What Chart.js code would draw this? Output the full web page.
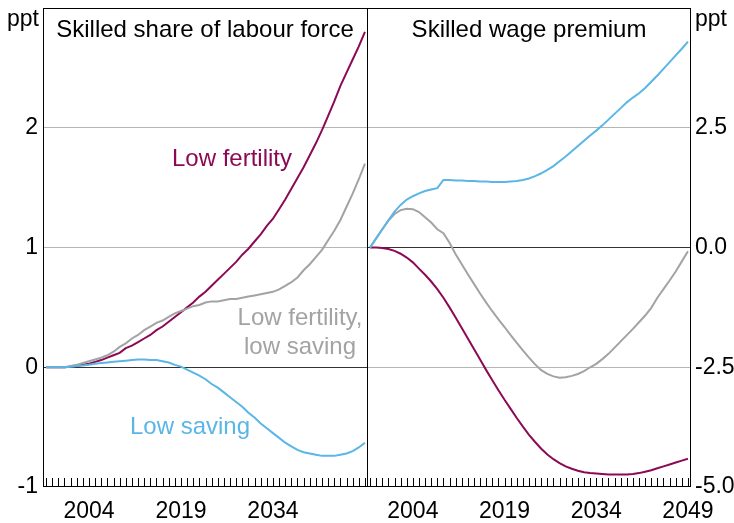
<!DOCTYPE html>
<html>
<head>
<meta charset="utf-8">
<script src="https://cdn.jsdelivr.net/npm/chart.js@4"></script>
<style>
  body { margin: 0; background: #fff; }
  #wrap { position: relative; width: 734px; height: 523px; }
  #left { position: absolute; left: 0; top: 0; }
  #right { position: absolute; left: 366px; top: 0; }
</style>
</head>
<body>
<div id="wrap">
  <canvas id="left" width="369" height="523"></canvas>
  <canvas id="right" width="368" height="523"></canvas>
</div>
<script>
// years 1997..2049, annual
const years = [];
for (let y = 1997; y <= 2049; y++) years.push(y);

const labelYears = [2004, 2019, 2034, 2049];

// Skilled share of labour force (ppt)
const shareLowFertility = [0, 0, 0, 0, 0.005, 0.01, 0.02, 0.03, 0.045, 0.06, 0.08, 0.1, 0.12, 0.16, 0.18, 0.21, 0.24, 0.27, 0.31, 0.34, 0.38, 0.42, 0.46, 0.5, 0.54, 0.59, 0.63, 0.68, 0.73, 0.78, 0.83, 0.88, 0.94, 0.99, 1.05, 1.11, 1.18, 1.24, 1.32, 1.4, 1.49, 1.58, 1.67, 1.77, 1.87, 1.98, 2.1, 2.22, 2.35, 2.46, 2.57, 2.68, 2.8];
const shareBoth = [0, 0, 0, 0, 0.01, 0.02, 0.035, 0.05, 0.065, 0.08, 0.1, 0.13, 0.17, 0.2, 0.24, 0.27, 0.31, 0.34, 0.37, 0.39, 0.42, 0.45, 0.47, 0.49, 0.51, 0.52, 0.54, 0.55, 0.55, 0.56, 0.57, 0.57, 0.58, 0.59, 0.6, 0.61, 0.62, 0.63, 0.65, 0.68, 0.71, 0.75, 0.81, 0.86, 0.92, 0.98, 1.06, 1.14, 1.23, 1.34, 1.45, 1.57, 1.7];
const shareLowSaving = [0, 0, 0, 0, 0.005, 0.01, 0.015, 0.02, 0.03, 0.035, 0.04, 0.045, 0.05, 0.055, 0.06, 0.065, 0.065, 0.06, 0.06, 0.05, 0.04, 0.02, 0.005, -0.02, -0.045, -0.07, -0.1, -0.14, -0.17, -0.21, -0.25, -0.29, -0.33, -0.38, -0.42, -0.47, -0.51, -0.55, -0.59, -0.63, -0.66, -0.69, -0.71, -0.72, -0.73, -0.74, -0.74, -0.74, -0.73, -0.72, -0.7, -0.67, -0.63];

// Skilled wage premium (ppt)
const wageLowFertility = [0, 0, -0.01, -0.03, -0.07, -0.13, -0.21, -0.31, -0.44, -0.57, -0.71, -0.87, -1.05, -1.25, -1.46, -1.68, -1.9, -2.12, -2.34, -2.56, -2.77, -2.98, -3.18, -3.37, -3.56, -3.74, -3.91, -4.06, -4.2, -4.32, -4.42, -4.5, -4.57, -4.62, -4.66, -4.69, -4.71, -4.72, -4.73, -4.74, -4.74, -4.74, -4.74, -4.73, -4.71, -4.68, -4.65, -4.61, -4.57, -4.53, -4.49, -4.45, -4.41];
const wageBoth = [0, 0.19, 0.38, 0.56, 0.7, 0.78, 0.81, 0.8, 0.74, 0.63, 0.52, 0.38, 0.3, 0.1, -0.14, -0.35, -0.56, -0.76, -0.96, -1.15, -1.33, -1.5, -1.66, -1.83, -1.99, -2.15, -2.3, -2.44, -2.56, -2.64, -2.69, -2.72, -2.71, -2.68, -2.64, -2.58, -2.5, -2.43, -2.33, -2.22, -2.09, -1.96, -1.83, -1.7, -1.56, -1.42, -1.26, -1.05, -0.87, -0.69, -0.5, -0.29, -0.08];
const wageLowSaving = [0, 0.19, 0.38, 0.57, 0.75, 0.89, 1.0, 1.07, 1.13, 1.18, 1.21, 1.24, 1.41, 1.41, 1.4, 1.4, 1.39, 1.39, 1.38, 1.38, 1.37, 1.37, 1.37, 1.38, 1.39, 1.41, 1.44, 1.49, 1.55, 1.62, 1.7, 1.8, 1.9, 2.01, 2.12, 2.23, 2.34, 2.44, 2.55, 2.67, 2.79, 2.91, 3.03, 3.13, 3.22, 3.33, 3.46, 3.59, 3.73, 3.87, 4.01, 4.15, 4.3];

const MAROON = '#8c0a55';
const GREY = '#a3a3a3';
const BLUE = '#5ab6e6';
const FONT = '"Liberation Sans", Arial, sans-serif';

function line(data, color) {
  return { data, borderColor: color, borderWidth: 2, pointRadius: 0, tension: 0, fill: false };
}

function noPad(s) {
  s.paddingLeft = 0; s.paddingRight = 0; s.paddingTop = 0; s.paddingBottom = 0;
}

// frame, inward year ticks and text
function panelPlugin(texts) {
  return {
    id: 'panel',
    afterDraw(chart) {
      const { ctx, chartArea: a, scales } = chart;
      ctx.save();
      ctx.strokeStyle = '#000';
      ctx.lineWidth = 1;
      ctx.strokeRect(a.left + 0.5, a.top + 0.5, a.right - a.left - 1, a.bottom - a.top - 1);
      ctx.beginPath();
      years.forEach((y, i) => {
        const x = Math.round(scales.x.getPixelForValue(i)) + 0.5;
        ctx.moveTo(x, a.bottom);
        ctx.lineTo(x, a.bottom - 9);
      });
      ctx.stroke();
      texts.forEach(t => {
        ctx.fillStyle = t.color || '#000';
        ctx.font = (t.size || 24) + 'px ' + FONT;
        ctx.textAlign = t.align || 'center';
        ctx.textBaseline = 'middle';
        ctx.fillText(t.text, t.x, t.y);
      });
      ctx.restore();
    }
  };
}

function gridColor(ctx) {
  const v = ctx.tick.value;
  if (v === 0) return '#333';
  if (v === ctx.scale.min || v === ctx.scale.max) return 'rgba(0,0,0,0)';
  return '#b5b5b5';
}

function xAxis(skip2049) {
  return {
    type: 'category',
    offset: true,
    grid: { display: false, drawTicks: false },
    border: { display: false },
    ticks: {
      autoSkip: false, maxRotation: 0, padding: 11,
      color: '#000', font: { size: 23, family: FONT },
      callback: (v, i) => {
        const y = years[i];
        if (skip2049 && y === 2049) return '';
        return labelYears.includes(y) ? String(y) : '';
      }
    },
    afterFit: s => { s.height = 36; noPad(s); }
  };
}

new Chart(document.getElementById('left'), {
  type: 'line',
  data: {
    labels: years,
    datasets: [line(shareLowSaving, BLUE), line(shareBoth, GREY), line(shareLowFertility, MAROON)]
  },
  options: {
    responsive: false, animation: false,
    layout: { padding: { top: 8, right: 1, left: 0, bottom: 0 } },
    plugins: { legend: { display: false }, tooltip: { enabled: false } },
    scales: {
      x: xAxis(true),
      y: {
        min: -1, max: 3,
        grid: { color: gridColor, drawTicks: false },
        border: { display: false },
        ticks: {
          stepSize: 1, padding: 5, color: '#000', font: { size: 23, family: FONT },
          callback: v => v === 3 ? '' : String(v)
        },
        afterFit: s => { s.width = 43; noPad(s); }
      }
    }
  },
  plugins: [panelPlugin([
    { text: 'ppt', x: 39, y: 20, align: 'right', size: 23 },
    { text: 'Skilled share of labour force', x: 205, y: 30 },
    { text: 'Low fertility', x: 232, y: 159, color: MAROON },
    { text: 'Low fertility,', x: 300, y: 318, color: GREY },
    { text: 'low saving', x: 300, y: 347, color: GREY },
    { text: 'Low saving', x: 190, y: 427, color: BLUE }
  ])]
});

new Chart(document.getElementById('right'), {
  type: 'line',
  data: {
    labels: years,
    datasets: [line(wageLowSaving, BLUE), line(wageBoth, GREY), line(wageLowFertility, MAROON)]
  },
  options: {
    responsive: false, animation: false,
    layout: { padding: { top: 8, right: 0, left: 1, bottom: 0 } },
    plugins: { legend: { display: false }, tooltip: { enabled: false } },
    scales: {
      x: xAxis(false),
      y: {
        position: 'right',
        min: -5, max: 5,
        grid: { color: gridColor, drawTicks: false },
        border: { display: false },
        ticks: {
          stepSize: 2.5, padding: 4, color: '#000', font: { size: 23, family: FONT },
          callback: v => v === 5 ? '' : v.toFixed(1)
        },
        afterFit: s => { s.width = 43; noPad(s); }
      }
    }
  },
  plugins: [panelPlugin([
    { text: 'ppt', x: 329, y: 20, align: 'left', size: 23 },
    { text: 'Skilled wage premium', x: 163, y: 30 }
  ])]
});
</script>
</body>
</html>
